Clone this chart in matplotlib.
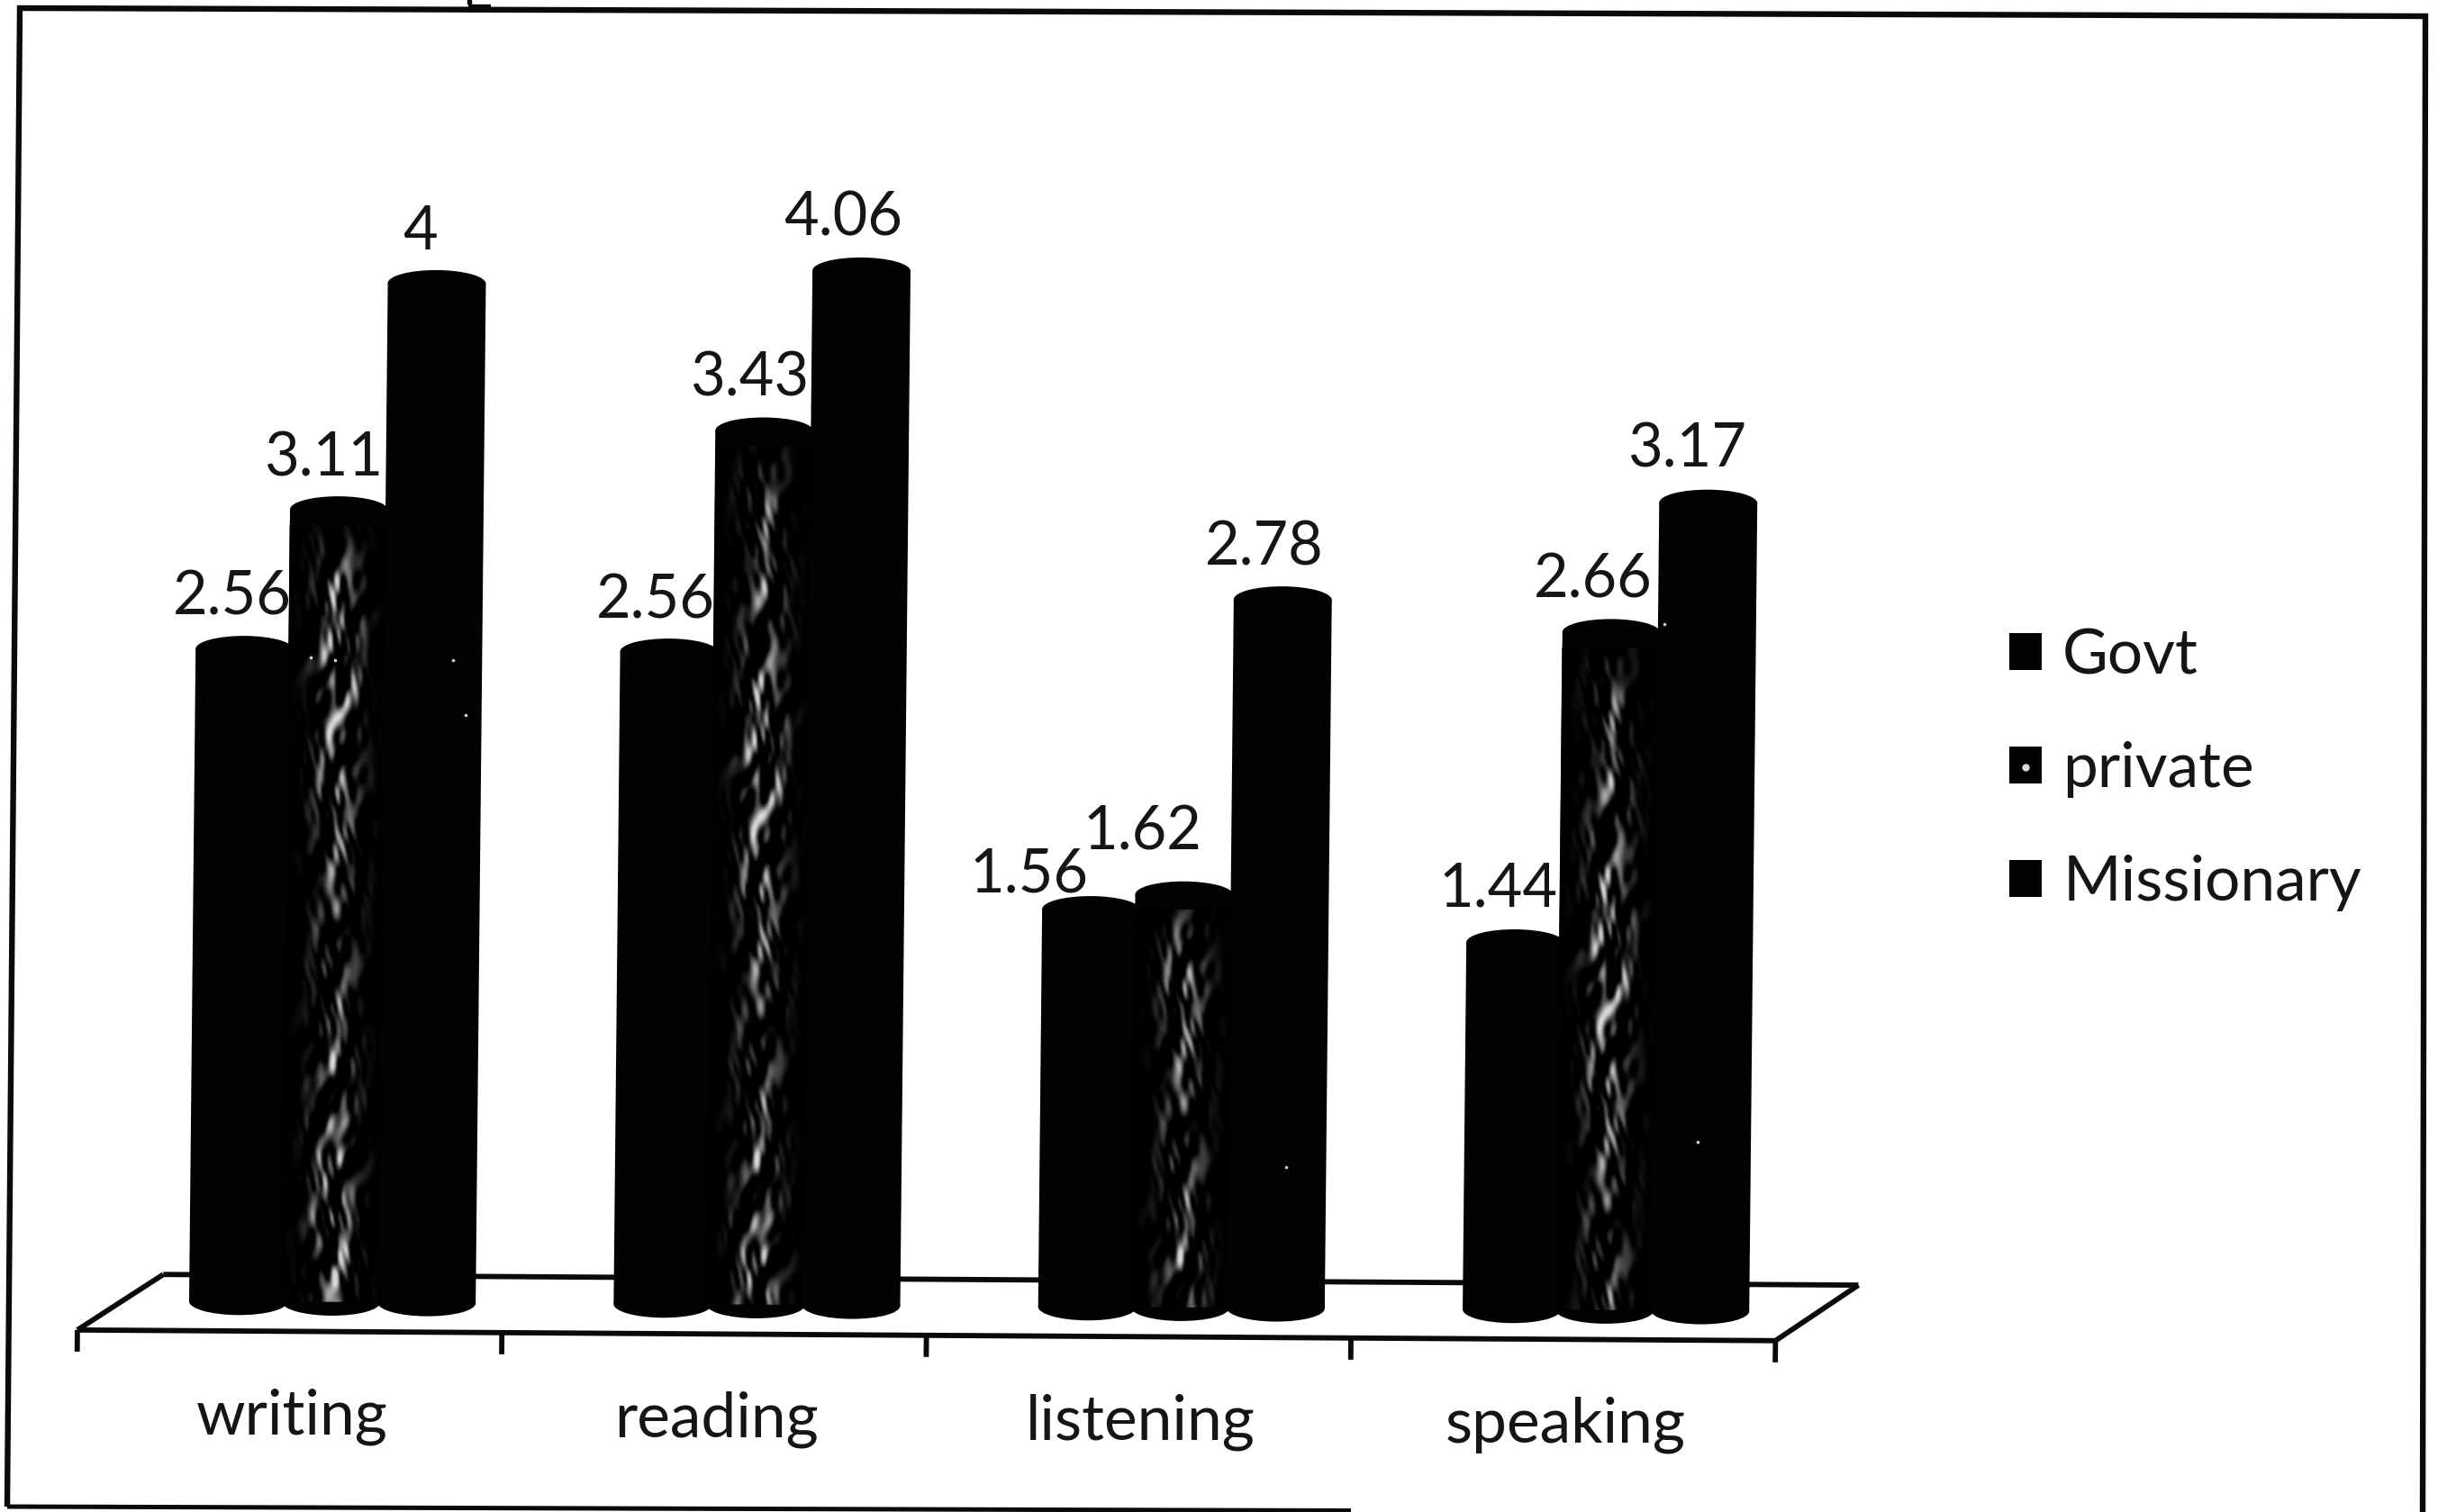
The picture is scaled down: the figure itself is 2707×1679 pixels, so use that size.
import numpy as np
import matplotlib
matplotlib.use("Agg")
import matplotlib.pyplot as plt
from matplotlib.lines import Line2D
from matplotlib.patches import Ellipse, Rectangle
from matplotlib.legend_handler import HandlerTuple
from matplotlib.transforms import Affine2D

categories = ["writing", "reading", "listening", "speaking"]
series_names = ["Govt", "private", "Missionary"]
govt = [2.56, 2.56, 1.56, 1.44]
private = [3.11, 3.43, 1.62, 2.66]
missionary = [4.00, 4.06, 2.78, 3.17]

plt.rcParams["font.family"] = ["Lato", "DejaVu Sans"]
FS_VAL = 48
FS_TXT = 50
W, H = 2707, 1679
fig = plt.figure(figsize=(W / 100, H / 100), dpi=100, facecolor="white")
ax = fig.add_axes([0, 0, 1, 1])
ax.axis("off")
xlim = (-0.780, 4.963)
ylim = (-0.823, 5.11)

# the scanned page is turned slightly clockwise
tilt = Affine2D.from_values(1, -0.0105, 0.006, 1, 0, 0)
T = tilt + ax.transData

offsets = [-0.219, 0.0, 0.225]
bar_w = 0.231
ell_h = 0.105
all_values = [govt, private, missionary]

# cloudy texture of the middle bars (deterministic)
ny, nx = 420, 60
yy, xx = np.mgrid[0:ny, 0:nx]
u = (xx - nx / 2) / (nx / 2)
warp = 4 * np.sin(yy * 0.037 + 0.4) + 3 * np.sin(yy * 0.083 + xx * 0.11)
xw = xx + warp
tex = (np.sin(yy * 0.171 + 1.3) * np.sin(xw * 0.43 + 0.6)
       + np.sin(yy * 0.293 + xw * 0.31 + 1.3) * np.sin(xw * 0.67 - yy * 0.05)
       + 0.8 * np.sin(yy * 0.113 - xw * 0.23 + 2.1)
       + 0.7 * np.sin(yy * 0.417 + 0.7) * np.sin(xw * 0.89 + yy * 0.13))
tex = np.clip(tex + 0.15, 0, None) / 2.1
tex = tex * np.exp(-(u / 0.46) ** 2) * (0.78 + 0.22 * np.sin(yy * 0.029 + 0.9))
tex = np.clip(tex, 0, 0.85)

for i in [0, 1, 2]:
    vals = all_values[i]
    for g, v in enumerate(vals):
        cx = g + offsets[i]
        r = ax.bar(cx, v, width=bar_w, color="#020202", linewidth=0, zorder=3 + i)[0]
        r.set_transform(T)
        for yc in (0, v):
            e = Ellipse((cx, yc), bar_w, ell_h, facecolor="#020202", linewidth=0, zorder=3 + i, transform=T)
            ax.add_patch(e)
        if i == 1:
            rows = int(ny * min(v / 4.2, 1))
            start = 37 * g
            t = (tex[start:start + rows] if start + rows <= ny else tex[:rows]).copy()
            fade = np.clip((rows - 1 - np.arange(rows)) / 26.0, 0, 1)
            t = t * fade[:, None]
            im = ax.imshow(t, extent=(cx - bar_w / 2, cx + bar_w / 2, 0.0, v), origin="lower",
                           cmap="gray", vmin=0, vmax=1, aspect="auto", interpolation="bicubic",
                           zorder=3.5 + i, transform=T)
            clip = Rectangle((cx - bar_w / 2, -0.03), bar_w, v - 0.03, transform=T)
            im.set_clip_path(clip)

# floor of the 3-D chart
fx0, fx1, fy = -0.597, 3.403, -0.115
bx0, bx1, by = -0.396, 3.597, 0.105
kw = dict(color="#0a0a0a", lw=4.2, transform=T, solid_capstyle="butt")
ax.plot([fx0, fx1], [fy, fy], zorder=2, **kw)
ax.plot([bx0, bx1], [by, by], zorder=2, **kw)
ax.plot([fx0, bx0], [fy, by], zorder=2, **kw)
ax.plot([fx1, bx1], [fy, by], zorder=2, **kw)
for g in range(5):
    x = fx0 + g
    ax.plot([x, x], [fy, fy - 0.085], zorder=2, **kw)

# data labels: nudge from the bar top, in points
nudges = [
    [(-8, 31), (-10, 30), (-11, 30)],
    [(-9, 30), (-10, 31), (-12, 31)],
    [(-40, 17), (-27, 39), (-12, 31)],
    [(-11, 32), (-12, 31), (-14, 32)],
]
for i, vals in enumerate(all_values):
    for g, v in enumerate(vals):
        dx, dy = nudges[g][i]
        ax.annotate(f"{v:g}", xy=(g + offsets[i], v + ell_h / 2), xycoords=T,
                    xytext=(dx * 1.24, dy), textcoords="offset points",
                    ha="center", va="center", fontsize=FS_VAL, color="#151515", zorder=10)

for g, c in enumerate(categories):
    ax.text(g - 0.09, -0.452, c, transform=T, ha="center", va="center",
            fontsize=FS_TXT, color="#151515", zorder=10)

# legend
sq = lambda: Rectangle((0, 0), 1, 1, facecolor="#020202", linewidth=0)
dot = Line2D([], [], marker="o", markersize=5, color="#d8d8d8", linestyle="none")
handles = [sq(), (sq(), dot), sq()]
ax.legend(handles, series_names, loc="center left", bbox_to_anchor=(1292 / 1568, 0.4909),
          frameon=False, fontsize=FS_TXT, borderpad=0, borderaxespad=0,
          handlelength=0.53, handleheight=0.53, handletextpad=0.33, labelspacing=0.91,
          labelcolor="#151515", handler_map={tuple: HandlerTuple(ndivide=1)})

# scanned frame, and small scan remnants, in image pixels
def px(xs, ys):
    xs, ys = np.asarray(xs, float), np.asarray(ys, float)
    return xs / W * (xlim[1] - xlim[0]) + xlim[0], (1 - ys / H) * (ylim[1] - ylim[0]) + ylim[0]

ax.plot(*px([8, 22, 2693, 2690], [1673, 9, 18, 1679]), color="#0a0a0a", lw=4.6, zorder=1,
        solid_joinstyle="miter", solid_capstyle="butt")
ax.plot(*px([8, 1500], [1673, 1677.5]), color="#0a0a0a", lw=3.6, zorder=1, solid_capstyle="butt")
ax.plot(*px([520, 545], [9, 9]), color="#0a0a0a", lw=6, zorder=1, solid_capstyle="butt")
ax.plot(*px([521], [2]), "s", color="#0a0a0a", ms=3, zorder=1)
sx = [503, 517, 372, 345, 1885, 1848, 1428]
sy = [733, 794, 733, 730, 1268, 693, 1296]
ax.plot(*px(sx, sy), "o", color="#d0d0d0", ms=2.6, mew=0, zorder=9)

ax.set_xlim(*xlim)
ax.set_ylim(*ylim)
fig.savefig("out.png", dpi=100)
